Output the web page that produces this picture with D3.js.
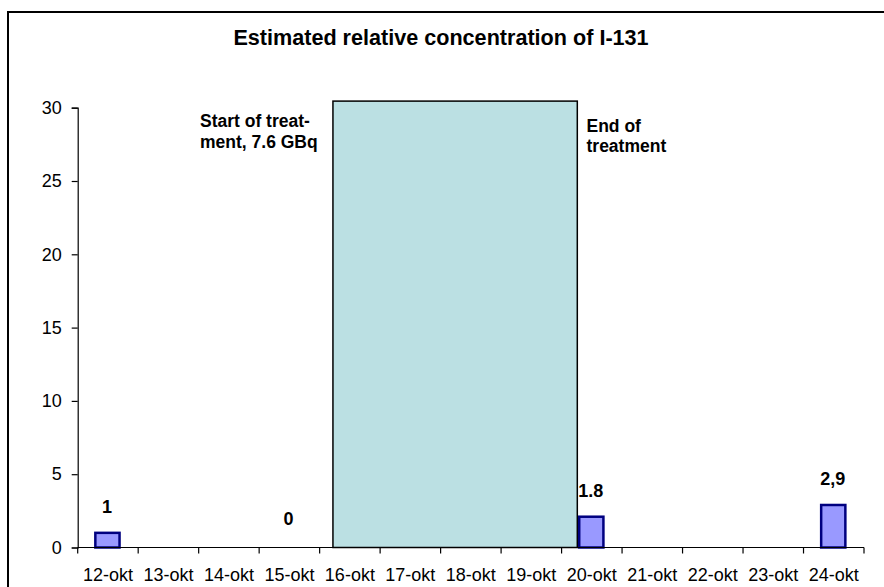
<!DOCTYPE html>
<html>
<head>
<meta charset="utf-8">
<script src="https://cdn.jsdelivr.net/npm/d3@7"></script>
<style>
  html, body { margin: 0; padding: 0; background: #fff; }
  svg { display: block; font-family: "Liberation Sans", Arial, sans-serif; }
</style>
</head>
<body>
<svg id="chart" width="884" height="587"></svg>
<script>
// ---- data ----
const categories = ["12-okt","13-okt","14-okt","15-okt","16-okt","17-okt","18-okt","19-okt","20-okt","21-okt","22-okt","23-okt","24-okt"];
const values     = [1, null, null, null, null, null, null, null, 2.1, null, null, null, 2.9];
const valueLabels = ["1", null, null, "0", null, null, null, null, "1.8", null, null, null, "2,9"];
const yTicks = [0, 5, 10, 15, 20, 25, 30];
const titleText = "Estimated relative concentration of I-131";
// treatment period, in days counted from the start of 12-okt, and its shaded height
const treatmentStartDay = 4.22;
const treatmentEndDay = 8.26;
const treatmentHeight = 30.45;
const startNote = ["Start of treat-", "ment, 7.6 GBq"];
const endNote = ["End of", "treatment"];

// ---- layout ----
const svg = d3.select("#chart");
const plotLeft = 77.7, plotRight = 864, plotTop = 107.7, plotBottom = 547.5;

const x = d3.scaleBand().domain(categories).range([plotLeft, plotRight]).padding(0);
const xDay = d3.scaleLinear().domain([0, categories.length]).range([plotLeft, plotRight]);
const y = d3.scaleLinear().domain([0, 30]).range([plotBottom, plotTop]);

// outer chart border (left and top visible)
svg.append("rect").attr("x", 8).attr("y", 12).attr("width", 900).attr("height", 600)
  .attr("fill", "none").attr("stroke", "#000").attr("stroke-width", 2);

// title
svg.append("text").attr("x", 441).attr("y", 45).attr("text-anchor", "middle")
  .attr("font-size", 21.6).attr("font-weight", "bold").attr("fill", "#000").text(titleText);

// treatment shading
svg.append("rect")
  .attr("x", xDay(treatmentStartDay)).attr("y", y(treatmentHeight))
  .attr("width", xDay(treatmentEndDay) - xDay(treatmentStartDay))
  .attr("height", y(0) - y(treatmentHeight))
  .attr("fill", "#BBE0E3").attr("stroke", "#000").attr("stroke-width", 1.5);

// bars
const bw = x.bandwidth() * 0.4;
svg.append("g").selectAll("rect")
  .data(categories.map((c, i) => ({c, v: values[i]})).filter(d => d.v != null))
  .join("rect")
  .attr("x", d => x(d.c) + x.bandwidth() / 2 - bw / 2 - 0.5)
  .attr("y", d => y(d.v))
  .attr("width", bw)
  .attr("height", d => y(0) - y(d.v))
  .attr("fill", "#9999FF").attr("stroke", "#000080").attr("stroke-width", 2.5);

// y axis
const yAxis = svg.append("g").attr("transform", `translate(${plotLeft},0)`)
  .call(d3.axisLeft(y).tickValues(yTicks).tickSize(6).tickPadding(10).tickFormat(d3.format("d")));
yAxis.select(".domain").attr("stroke", "#000").attr("stroke-width", 1.2);
yAxis.selectAll(".tick line").attr("stroke", "#000").attr("stroke-width", 1.2);
yAxis.selectAll(".tick text").attr("font-size", 18).attr("fill", "#000")
  .attr("font-family", "Liberation Sans, Arial, sans-serif");

// x axis with ticks at category boundaries
const xAxisG = svg.append("g").attr("transform", `translate(0,${plotBottom})`);
xAxisG.append("line").attr("x1", plotLeft).attr("x2", plotRight).attr("stroke", "#000").attr("stroke-width", 1.2);
xAxisG.selectAll("line.tk").data(d3.range(categories.length + 1)).join("line")
  .attr("class", "tk")
  .attr("x1", i => xDay(i)).attr("x2", i => xDay(i))
  .attr("y1", 0).attr("y2", 6).attr("stroke", "#000").attr("stroke-width", 1.2);
xAxisG.selectAll("text").data(categories).join("text")
  .attr("x", d => x(d) + x.bandwidth() / 2)
  .attr("y", 33.5)
  .attr("text-anchor", "middle").attr("font-size", 18).attr("fill", "#000")
  .text(d => d);

// value labels
svg.append("g").selectAll("text")
  .data(categories.map((c, i) => ({c, v: values[i], t: valueLabels[i]})).filter(d => d.t != null))
  .join("text")
  .attr("x", d => x(d.c) + x.bandwidth() / 2 - 1)
  .attr("y", d => d.v != null ? y(d.v) - 20 : y(0) - 22.5)
  .attr("text-anchor", "middle").attr("font-size", 18).attr("font-weight", "bold").attr("fill", "#000")
  .text(d => d.t);

// annotations
const sNote = svg.append("text").attr("font-size", 17.5).attr("font-weight", "bold").attr("fill", "#000");
startNote.forEach((t, i) => sNote.append("tspan").attr("x", 200).attr("y", 127 + i * 21).text(t));
const eNote = svg.append("text").attr("font-size", 17.5).attr("font-weight", "bold").attr("fill", "#000");
endNote.forEach((t, i) => eNote.append("tspan").attr("x", 586.5).attr("y", 131.5 + i * 20).text(t));
</script>
</body>
</html>
